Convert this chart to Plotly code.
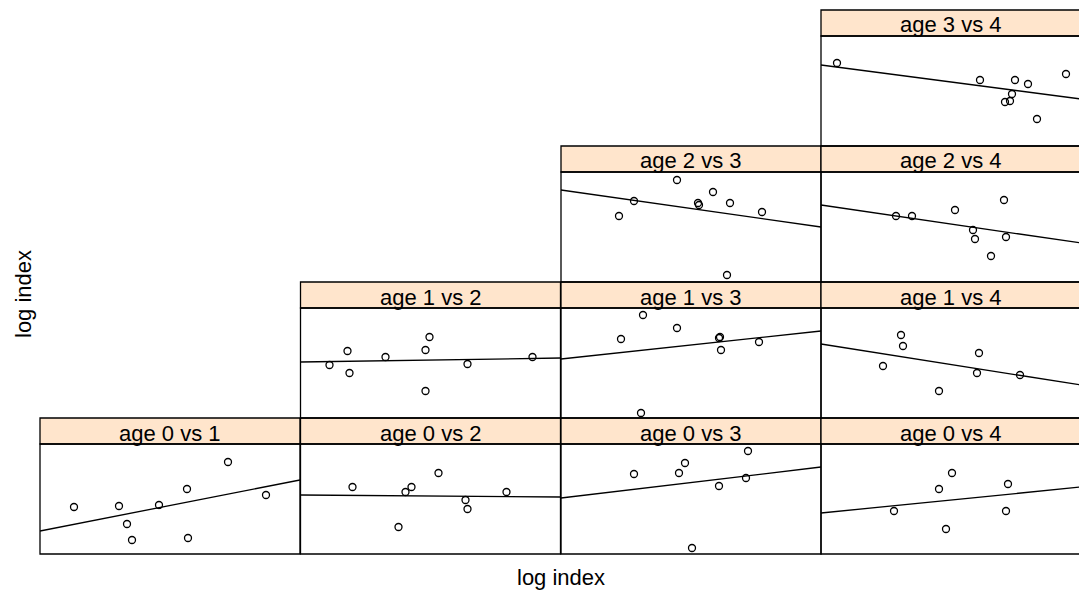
import plotly.graph_objects as go

# ---------------- data (log index, arbitrary common scale) ----------------
x_range = [0, 26]
y_range = [0, 11]

labels = ["age 0 vs 1", "age 0 vs 2", "age 0 vs 3", "age 0 vs 4",
          "age 1 vs 2", "age 1 vs 3", "age 1 vs 4",
          "age 2 vs 3", "age 2 vs 4",
          "age 3 vs 4"]

x_0v1 = [3.4, 7.9, 8.7, 9.2, 11.9, 14.7, 14.8, 18.8, 22.6]
y_0v1 = [4.7, 4.8, 3.0, 1.4, 4.9, 6.5, 1.6, 9.2, 5.9]
fit_0v1 = [2.3, 7.4]

x_0v2 = [5.2, 9.8, 10.5, 11.1, 13.8, 16.5, 16.7, 20.6]
y_0v2 = [6.7, 2.7, 6.2, 6.7, 8.1, 5.4, 4.5, 6.2]
fit_0v2 = [5.9, 5.7]

x_0v3 = [7.3, 11.8, 12.4, 13.1, 15.8, 18.5, 18.7]
y_0v3 = [8.0, 8.1, 9.1, 0.6, 6.8, 7.6, 10.3]
fit_0v3 = [5.6, 8.7]

x_0v4 = [7.3, 11.8, 12.5, 13.1, 18.5, 18.7]
y_0v4 = [4.3, 6.5, 2.5, 8.1, 4.3, 7.0]
fit_0v4 = [4.1, 6.7]

x_1v2 = [2.9, 4.7, 4.9, 8.5, 12.5, 12.9, 12.5, 16.7, 23.2]
y_1v2 = [5.3, 6.7, 4.5, 6.1, 6.8, 8.1, 2.7, 5.4, 6.1]
fit_1v2 = [5.6, 6.0]

x_1v3 = [6.0, 8.2, 11.6, 8.0, 15.8, 15.9, 16.0, 19.8]
y_1v3 = [7.9, 10.3, 9.0, 0.5, 8.0, 8.1, 6.8, 7.6]
fit_1v3 = [5.9, 8.7]

x_1v4 = [8.0, 8.2, 6.2, 11.8, 15.8, 15.6, 19.9]
y_1v4 = [8.3, 7.2, 5.2, 2.7, 6.5, 4.5, 4.3]
fit_1v4 = [7.4, 3.3]

x_2v3 = [5.8, 7.3, 11.6, 13.7, 13.8, 15.2, 16.9, 20.1, 16.6]
y_2v3 = [6.6, 8.1, 10.2, 7.9, 7.7, 9.0, 7.9, 7.0, 0.7]
fit_2v3 = [9.2, 5.5]

x_2v4 = [7.5, 9.1, 13.4, 18.3, 15.2, 15.4, 17.0, 18.5]
y_2v4 = [6.6, 6.6, 7.2, 8.2, 5.2, 4.3, 2.6, 4.5]
fit_2v4 = [7.7, 3.9]

x_3v4 = [1.6, 15.9, 19.4, 20.7, 24.5, 19.1, 18.4, 18.9, 21.6]
y_3v4 = [8.3, 6.6, 6.6, 6.2, 7.2, 5.2, 4.4, 4.5, 2.7]
fit_3v4 = [8.1, 4.7]

xs_all = [x_0v1, x_0v2, x_0v3, x_0v4, x_1v2, x_1v3, x_1v4, x_2v3, x_2v4, x_3v4]
ys_all = [y_0v1, y_0v2, y_0v3, y_0v4, y_1v2, y_1v3, y_1v4, y_2v3, y_2v4, y_3v4]
fits_all = [fit_0v1, fit_0v2, fit_0v3, fit_0v4, fit_1v2, fit_1v3, fit_1v4,
            fit_2v3, fit_2v4, fit_3v4]

# ---------------- layout (pixels in the 1079x592 window) ----------------
W, H = 1079, 592
COL_LEFT = [40, 300.5, 561, 821]
PANEL_W = 260
PANEL_H = 110
STRIP_H = 26
BOTTOM0 = 554
ROW_STEP = 136
FONT = "Liberation Sans, Arial, sans-serif"


def px(x):
    return x / W


def py(y):
    return 1 - y / H


fig = go.Figure()
shapes = []
annotations = []
layout_axes = {}

for i, label in enumerate(labels):
    parts = label.split()
    a, b = int(parts[1]), int(parts[3])
    col = b - 1
    left = COL_LEFT[col]
    right_full = left + PANEL_W
    right = min(right_full, W)
    bottom = BOTTOM0 - ROW_STEP * a
    top = bottom - PANEL_H
    stop = top - STRIP_H

    n = i + 1
    xname = "x" if n == 1 else f"x{n}"
    yname = "y" if n == 1 else f"y{n}"
    xkey = "xaxis" if n == 1 else f"xaxis{n}"
    ykey = "yaxis" if n == 1 else f"yaxis{n}"

    frac = (right - left) / PANEL_W
    xr = [x_range[0], x_range[0] + (x_range[1] - x_range[0]) * frac]

    layout_axes[xkey] = dict(domain=[px(left), min(px(right), 1.0)], range=xr,
                             anchor=yname, showticklabels=False, ticks="",
                             showgrid=False, zeroline=False, showline=False,
                             fixedrange=True)
    layout_axes[ykey] = dict(domain=[py(bottom), py(top)], range=y_range,
                             anchor=xname, showticklabels=False, ticks="",
                             showgrid=False, zeroline=False, showline=False,
                             fixedrange=True)

    # fitted line
    fig.add_trace(go.Scatter(x=x_range, y=fits_all[i], mode="lines",
                             line=dict(color="black", width=1.3),
                             xaxis=xname, yaxis=yname, showlegend=False,
                             hoverinfo="skip"))
    # points
    fig.add_trace(go.Scatter(x=xs_all[i], y=ys_all[i], mode="markers",
                             marker=dict(symbol="circle-open", size=7,
                                         color="black",
                                         line=dict(color="black", width=1.3)),
                             xaxis=xname, yaxis=yname, showlegend=False))

    # strip
    shapes.append(dict(type="rect", xref="paper", yref="paper",
                       x0=px(left), x1=px(right_full), y0=py(top), y1=py(stop),
                       fillcolor="#FFE5CC", line=dict(color="black", width=1.3),
                       layer="below"))
    # panel border
    shapes.append(dict(type="rect", xref="paper", yref="paper",
                       x0=px(left), x1=px(right_full), y0=py(bottom), y1=py(top),
                       fillcolor="rgba(0,0,0,0)",
                       line=dict(color="black", width=1.3), layer="above"))
    annotations.append(dict(text=label, xref="paper", yref="paper",
                            x=px((left + right_full) / 2), y=py((top + stop) / 2 + 2),
                            xanchor="center", yanchor="middle", showarrow=False,
                            font=dict(family=FONT, size=22, color="black")))

annotations.append(dict(text="log index", xref="paper", yref="paper",
                        x=px(561), y=py(577), xanchor="center", yanchor="middle",
                        showarrow=False,
                        font=dict(family=FONT, size=22, color="black")))
annotations.append(dict(text="log index", xref="paper", yref="paper",
                        x=px(23), y=py(294), xanchor="center", yanchor="middle",
                        textangle=-90, showarrow=False,
                        font=dict(family=FONT, size=22, color="black")))

fig.update_layout(width=W, height=H, margin=dict(l=0, r=0, t=0, b=0),
                  paper_bgcolor="white", plot_bgcolor="white",
                  shapes=shapes, annotations=annotations, showlegend=False,
                  hovermode=False, **layout_axes)

fig.write_html("out.html",
               config={"displayModeBar": False, "staticPlot": True},
               post_script="document.body.style.margin='0';"
                           "document.body.style.overflow='hidden';")
